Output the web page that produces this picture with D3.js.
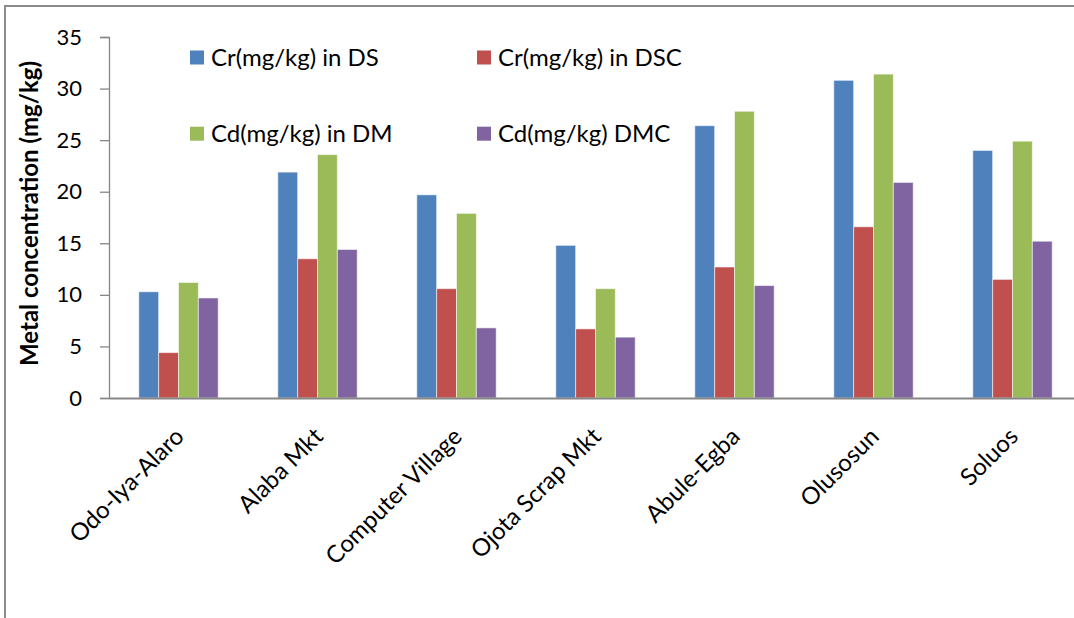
<!DOCTYPE html>
<html>
<head>
<meta charset="utf-8">
<script src="https://cdn.jsdelivr.net/npm/d3@7"></script>
<style>
  html, body { margin: 0; padding: 0; background: #fff; }
  svg { display: block; font-family: Lato, "Open Sans", sans-serif; }
</style>
</head>
<body>
<svg id="chart" width="1074" height="618"></svg>
<script>
const categories = ["Odo-Iya-Alaro", "Alaba Mkt", "Computer Village", "Ojota Scrap Mkt", "Abule-Egba", "Olusosun", "Soluos"];
const seriesNames = ["Cr(mg/kg) in DS", "Cr(mg/kg) in DSC", "Cd(mg/kg) in DM", "Cd(mg/kg) DMC"];
const crDS  = [10.3, 21.9, 19.7, 14.8, 26.4, 30.8, 24.0];
const crDSC = [4.4, 13.5, 10.6, 6.7, 12.7, 16.6, 11.5];
const cdDM  = [11.2, 23.6, 17.9, 10.6, 27.8, 31.4, 24.9];
const cdDMC = [9.7, 14.4, 6.8, 5.9, 10.9, 20.9, 15.2];
const seriesValues = [crDS, crDSC, cdDM, cdDMC];
const colors = ["#4F81BD", "#C0504D", "#9BBB59", "#8064A2"];
const yTicks = [0, 5, 10, 15, 20, 25, 30, 35];
const yTitle = "Metal concentration (mg/kg)";

const svg = d3.select("#chart");

// outer chart border (partially cropped in reference)
svg.append("rect")
  .attr("x", 5).attr("y", 6).attr("width", 1200).attr("height", 800)
  .attr("fill", "none").attr("stroke", "#8c8c8c").attr("stroke-width", 2);

const plotLeft = 109, plotTop = 37, plotBottom = 398;
const step = 139;
const plotRight = plotLeft + step * categories.length;

const y = d3.scaleLinear().domain([0, 35]).range([plotBottom, plotTop]);
const pad = 1 - 79.4 / step;
const x0 = d3.scaleBand().domain(categories).range([plotLeft, plotRight])
  .paddingInner(pad).paddingOuter(pad / 2);
const x1 = d3.scaleBand().domain(d3.range(seriesNames.length)).range([0, x0.bandwidth()]);

// bars
const groups = svg.append("g").selectAll("g")
  .data(categories).join("g")
  .attr("transform", d => `translate(${x0(d)},0)`);

groups.selectAll("rect")
  .data((d, i) => seriesValues.map((vals, s) => ({ s, v: vals[i] })))
  .join("rect")
  .attr("x", d => x1(d.s))
  .attr("y", d => y(d.v))
  .attr("width", x1.bandwidth())
  .attr("height", d => y(0) - y(d.v))
  .attr("fill", d => colors[d.s])
  .attr("stroke", "rgba(255,255,255,0.55)")
  .attr("stroke-width", 1);

// y axis
const yAxis = d3.axisLeft(y).tickValues(yTicks).tickSize(9).tickPadding(18);
const gy = svg.append("g").attr("transform", `translate(${plotLeft},0)`).call(yAxis);
gy.select(".domain").attr("stroke", "#868686").attr("stroke-width", 1.3);
gy.selectAll(".tick line").attr("stroke", "#868686").attr("stroke-width", 1.3);
gy.selectAll(".tick text").attr("font-size", 22).attr("fill", "#000")
  .attr("font-family", "Lato, sans-serif");

// x axis (baseline + rotated labels)
const xAxis = d3.axisBottom(x0).tickSize(0).tickPadding(0);
const gx = svg.append("g").attr("transform", `translate(0,${plotBottom})`).call(xAxis);
gx.select(".domain").attr("stroke", "#868686").attr("stroke-width", 2);
gx.selectAll(".tick text")
  .attr("font-size", 24).attr("fill", "#000")
  .attr("font-family", "Lato, sans-serif")
  .attr("text-anchor", "end")
  .attr("dy", null)
  .attr("y", 0)
  .attr("transform", "translate(7,40) rotate(-45)");

// y title
svg.append("text")
  .attr("transform", `translate(38,${(60 + 367) / 2}) rotate(-90)`)
  .attr("text-anchor", "middle")
  .attr("font-size", 24).attr("font-weight", "bold")
  .attr("font-family", "Lato, sans-serif")
  .text(yTitle);

// legend
const legendPos = [[190, 57.5], [477, 57.5], [190, 133.7], [477, 133.7]];
const lg = svg.append("g").selectAll("g").data(seriesNames).join("g")
  .attr("transform", (d, i) => `translate(${legendPos[i][0]},${legendPos[i][1]})`);
lg.append("rect").attr("x", 0).attr("y", -7).attr("width", 14).attr("height", 14)
  .attr("fill", (d, i) => colors[i]);
lg.append("text").attr("x", 21).attr("y", 0).attr("dy", "0.36em")
  .attr("font-size", 24).attr("font-family", "Lato, sans-serif")
  .text(d => d);
</script>
</body>
</html>
